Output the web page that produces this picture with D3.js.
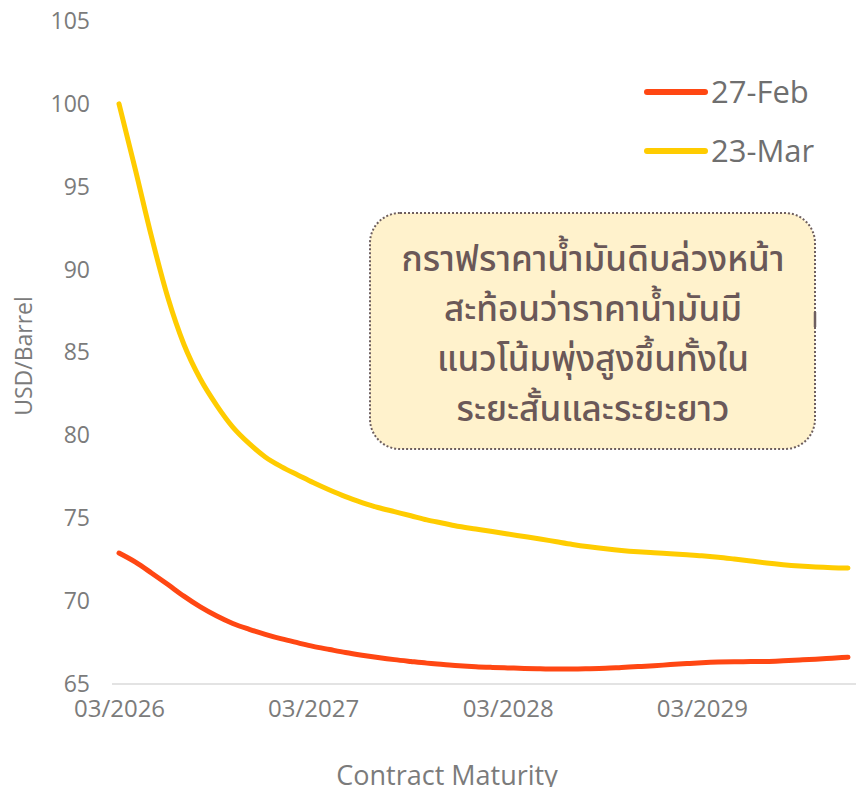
<!DOCTYPE html>
<html>
<head>
<meta charset="utf-8">
<script src="https://cdn.jsdelivr.net/npm/d3@7"></script>
<style>
  body { margin: 0; background: #fff; }
  svg { display: block; }
</style>
</head>
<body>
<div id="chart"></div>
<script>
const FRAME_WIDTH = 856;
const FRAME_HEIGHT = 787;

// data (monthly contracts, 03/2026 .. 12/2029)
const FIRST_MATURITY = "2026-03";
const FEB27 = [72.9, 72.35, 71.7, 71.0, 70.3, 69.65, 69.1, 68.65, 68.3, 68.0,
    67.72, 67.48, 67.27, 67.08, 66.9, 66.74, 66.6, 66.47, 66.36, 66.26,
    66.18, 66.1, 66.04, 66.0, 65.97, 65.94, 65.92, 65.9, 65.9, 65.92,
    65.95, 66.0, 66.05, 66.1, 66.17, 66.23, 66.28, 66.32, 66.34, 66.35,
    66.36, 66.4, 66.45, 66.5, 66.56, 66.62];
const MAR23 = [100.0, 96.0, 92.0, 88.3, 85.5, 83.4, 81.8, 80.5, 79.5, 78.7,
    78.1, 77.6, 77.15, 76.7, 76.3, 75.95, 75.65, 75.4, 75.15, 74.9,
    74.7, 74.5, 74.35, 74.2, 74.05, 73.9, 73.75, 73.58, 73.42, 73.28,
    73.16, 73.06, 72.98, 72.92, 72.86, 72.8, 72.74, 72.65, 72.54, 72.42,
    72.3, 72.2, 72.12, 72.06, 72.02, 72.0];
const SERIES_NAMES = ["27-Feb", "23-Mar"];
const SERIES_COLORS = ["#ff4713", "#ffcc00"];
const Y_TICKS = [65, 70, 75, 80, 85, 90, 95, 100, 105];
const X_TICKS = ["2026-03", "2027-03", "2028-03", "2029-03"];
const NOTE_LINES = ["กราฟราคาน้ำมันดิบล่วงหน้า", "สะท้อนว่าราคาน้ำมันมี",
    "แนวโน้มพุ่งสูงขึ้นทั้งใน", "ระยะสั้นและระยะยาว"];

const parseMonth = d3.timeParse("%Y-%m");
const start = parseMonth(FIRST_MATURITY);
const months = FEB27.map((d, i) => d3.timeMonth.offset(start, i));

const series = [FEB27, MAR23].map((vals, k) => ({
    name: SERIES_NAMES[k],
    color: SERIES_COLORS[k],
    values: vals.map((v, i) => ({date: months[i], value: v}))
}));

const FONT = "'Open Sans', 'Liberation Sans', sans-serif";
const TEXT_GRAY = "#7b7b7b";

const svg = d3.select("#chart")
    .append("svg")
    .attr("width", FRAME_WIDTH)
    .attr("height", FRAME_HEIGHT);

const X_SCALE = d3.scaleTime()
    .domain([months[0], months[months.length - 1]])
    .range([119, 848]);

const Y_SCALE = d3.scaleLinear()
    .domain([65, 105])
    .range([684, 21]);

// baseline gridline only
svg.append("line")
    .attr("x1", 112).attr("x2", FRAME_WIDTH)
    .attr("y1", Y_SCALE(65)).attr("y2", Y_SCALE(65))
    .attr("stroke", "#e3e3e3")
    .attr("stroke-width", 2);

// y axis
const yAxis = svg.append("g")
    .attr("transform", "translate(90,0)")
    .call(d3.axisLeft(Y_SCALE).tickValues(Y_TICKS).tickSize(0).tickPadding(0));
yAxis.select(".domain").remove();
yAxis.selectAll("text")
    .attr("font-family", FONT)
    .attr("font-size", 23)
    .attr("fill", TEXT_GRAY);

// x axis
const xAxis = svg.append("g")
    .attr("transform", "translate(0,700)")
    .call(d3.axisBottom(X_SCALE)
        .tickValues(X_TICKS.map(parseMonth))
        .tickFormat(d3.timeFormat("%m/%Y"))
        .tickSize(0).tickPadding(0));
xAxis.select(".domain").remove();
xAxis.selectAll("text")
    .attr("font-family", FONT)
    .attr("font-size", 24)
    .attr("fill", TEXT_GRAY);

// axis titles
svg.append("text")
    .attr("x", 447).attr("y", 785)
    .attr("text-anchor", "middle")
    .attr("font-family", FONT)
    .attr("font-size", 27)
    .attr("fill", TEXT_GRAY)
    .text("Contract Maturity");

svg.append("text")
    .attr("transform", "translate(32,356) rotate(-90)")
    .attr("text-anchor", "middle")
    .attr("font-family", FONT)
    .attr("font-size", 23)
    .attr("fill", TEXT_GRAY)
    .text("USD/Barrel");

// lines
const line = d3.line()
    .x(d => X_SCALE(d.date))
    .y(d => Y_SCALE(d.value))
    .curve(d3.curveMonotoneX);

svg.selectAll(".series")
    .data(series)
    .enter()
    .append("path")
        .attr("class", "series")
        .attr("d", d => line(d.values))
        .attr("fill", "none")
        .attr("stroke", d => d.color)
        .attr("stroke-width", 5)
        .attr("stroke-linecap", "round")
        .attr("stroke-linejoin", "round");

// legend
const legend = svg.selectAll(".legend")
    .data(series)
    .enter()
    .append("g")
        .attr("class", "legend")
        .attr("transform", (d, i) => "translate(647," + (92 + i * 59) + ")");

legend.append("line")
    .attr("x1", 0).attr("x2", 58)
    .attr("stroke", d => d.color)
    .attr("stroke-width", 6)
    .attr("stroke-linecap", "round");

legend.append("text")
    .attr("x", 64)
    .attr("dy", "0.36em")
    .attr("font-family", FONT)
    .attr("font-size", 31)
    .attr("fill", "#6f6f6f")
    .text(d => d.name);

// annotation box
const note = svg.append("g");
note.append("rect")
    .attr("x", 370).attr("y", 213)
    .attr("width", 445).attr("height", 236)
    .attr("rx", 30).attr("ry", 30)
    .attr("fill", "#fff2cc")
    .attr("stroke", "#6e5f5f")
    .attr("stroke-width", 2)
    .attr("stroke-dasharray", "2 2");

note.append("line")
    .attr("x1", 815).attr("x2", 815)
    .attr("y1", 312).attr("y2", 327)
    .attr("stroke", "#6e5f5f")
    .attr("stroke-width", 2.5);

note.selectAll(".note-line")
    .data(NOTE_LINES)
    .enter()
    .append("text")
        .attr("class", "note-line")
        .attr("x", 593)
        .attr("y", (d, i) => 271 + i * 50)
        .attr("text-anchor", "middle")
        .attr("font-family", "'Noto Sans', 'Noto Sans Thai', 'Loma', 'Garuda', sans-serif")
        .attr("font-size", 35)
        .attr("font-weight", 500)
        .attr("fill", "#6a5858")
        .text(d => d);
</script>
</body>
</html>
